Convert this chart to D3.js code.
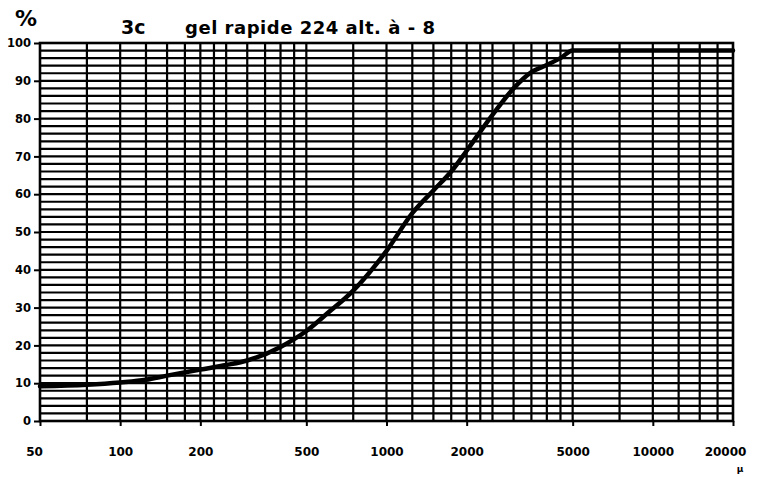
<!DOCTYPE html>
<html><head><meta charset="utf-8">
<script src="https://cdn.jsdelivr.net/npm/d3@7"></script>
<style>html,body{margin:0;padding:0;background:#fff;}svg{display:block;}</style>
</head><body>
<script>
// ---- data ----
const sizes   = [50, 75, 100, 125, 150, 200, 250, 300, 400, 500, 600, 750, 1000, 1250, 1500, 1750, 2000, 2500, 3000, 3500, 4000, 4500, 5000, 10000, 20000];
const passing = [9.2, 9.6, 10.2, 10.9, 12, 13.6, 14.8, 16, 19.6, 23.8, 28.5, 34.5, 45, 55, 61, 66, 71.5, 81, 88, 92.3, 94.2, 96, 98, 98, 98];
const xTickValues = [50, 100, 200, 500, 1000, 2000, 5000, 10000, 20000];
const xTickLabels = ["50", "100", "200", "500", "1000", "2000", "5000", "10000", "20000"];
const xGridValues = [75, 100, 125, 150, 175, 200, 225, 250, 300, 350, 400, 450, 500, 750, 1000, 1250, 1500, 1750, 2000, 2250, 2500, 3000, 3500, 4000, 4500, 5000, 7500, 10000, 12500, 15000, 17500];
const yTickValues = [0, 10, 20, 30, 40, 50, 60, 70, 80, 90, 100];
const yGridValues = d3.range(0, 101, 2);
const titleCode = "3c";
const titleText = "gel rapide 224 alt. à - 8";

// ---- layout ----
const W = 762, H = 477;
const L = 40, R = 733, T = 43, B = 421;
const svg = d3.select("body").append("svg").attr("width", W).attr("height", H);
const x = d3.scaleLog().domain([50, 20000]).range([L, R]);
const y = d3.scaleLinear().domain([0, 100]).range([B, T]);
const font = "'DejaVu Sans', 'Liberation Sans', sans-serif";

// grid
svg.append("g").selectAll("line").data(yGridValues).join("line")
  .attr("x1", L).attr("x2", R).attr("y1", d => y(d)).attr("y2", d => y(d))
  .attr("stroke", "#000").attr("stroke-width", 2.2);
svg.append("g").selectAll("line").data(xGridValues).join("line")
  .attr("x1", d => x(d)).attr("x2", d => x(d)).attr("y1", T).attr("y2", B)
  .attr("stroke", "#000").attr("stroke-width", 2.2);

// border
svg.append("rect").attr("x", L).attr("y", T).attr("width", R - L).attr("height", B - T)
  .attr("fill", "none").attr("stroke", "#000").attr("stroke-width", 2.6);

// axes
const xAxis = d3.axisBottom(x).tickValues(xTickValues)
  .tickFormat((d, i) => xTickLabels[i]).tickSize(5).tickPadding(21);
const gx = svg.append("g").attr("transform", `translate(0,${B})`).call(xAxis);
gx.select(".domain").remove();
gx.selectAll("line").attr("stroke", "#000").attr("stroke-width", 2);
gx.selectAll("text").attr("font-family", font).attr("font-weight", "bold")
  .attr("font-size", 12).attr("fill", "#000");
gx.selectAll("text").filter(d => d === 50).attr("dx", -6);
gx.selectAll("text").filter(d => d === 20000).attr("dx", -8);

const yAxis = d3.axisLeft(y).tickValues(yTickValues).tickSize(6).tickPadding(3);
const gy = svg.append("g").attr("transform", `translate(${L},0)`).call(yAxis);
gy.select(".domain").remove();
gy.selectAll("line").attr("stroke", "#000").attr("stroke-width", 2);
gy.selectAll("text").attr("font-family", font).attr("font-weight", "bold")
  .attr("font-size", 11.5).attr("fill", "#000");

// curve
const pts = sizes.map((s, i) => [s, passing[i]]);
const line = d3.line().x(d => x(d[0])).y(d => y(d[1])).curve(d3.curveMonotoneX);
svg.append("path").datum(pts).attr("d", line)
  .attr("fill", "none").attr("stroke", "#000").attr("stroke-width", 4.5)
  .attr("stroke-linejoin", "round").attr("stroke-linecap", "round");

// labels
svg.append("text").attr("x", 26).attr("y", 26).attr("text-anchor", "middle")
  .attr("font-family", font).attr("font-weight", "bold").attr("font-size", 22).text("%");
svg.append("text").attr("x", 121).attr("y", 34)
  .attr("font-family", font).attr("font-weight", "bold").attr("font-size", 19).text(titleCode);
svg.append("text").attr("x", 185).attr("y", 34).attr("textLength", 250)
  .attr("font-family", font).attr("font-weight", "bold").attr("font-size", 18).text(titleText);
svg.append("text").attr("x", 740).attr("y", 472).attr("text-anchor", "middle")
  .attr("font-family", font).attr("font-weight", "bold").attr("font-size", 9).text("µ");
</script>
</body></html>
